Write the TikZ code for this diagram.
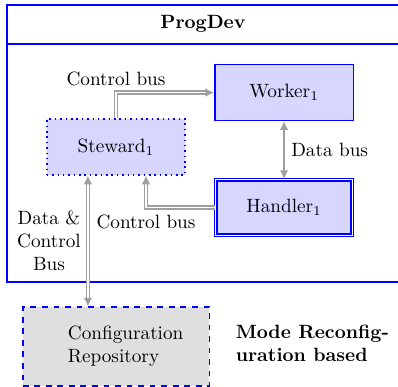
\documentclass[tikz,border=0pt]{standalone}
\usepackage{tikz}
\usetikzlibrary{positioning,arrows.meta}

\begin{document}
\begin{tikzpicture}[x=0.52pt, y=-0.52pt,
			block/.style={rectangle, draw=blue, fill=blue!16, thick, minimum width=72pt, minimum height=29pt},
			handlerbox/.style={block, line width=0.7pt, double=white, double distance=0.6pt, minimum width=71pt},
			repo/.style={rectangle, draw=blue, fill=gray!25, thick, dashed, minimum width=97pt, minimum height=41pt, text width=50pt, align=left},
			bus/.style={draw=gray!75, double=white, double distance=0.9pt, line width=0.75pt},
			tip/.style={Latex[length=4.5pt, width=4.5pt]},
			databus/.style={draw=gray!75, line width=0.8pt, {Latex[length=4.5pt, width=4.5pt]}-{Latex[length=4.5pt, width=4.5pt]}},
			frame/.style={draw=blue, thick}
		]
		\useasboundingbox (0,0) rectangle (398,387);
		\clip (0,0) rectangle (398,387);

		% outer frame with header
		\draw[frame] (404,5) -- (7,5) -- (7,282) -- (404,282);
		\draw[frame] (7,44) -- (404,44);
		\node[font=\bfseries] (title) at (203,24) {ProgDev};

		\node[block, dotted] (steward) at (116,147) {Steward$_1$};
		\node[block] (worker) [above right=-1.5pt and 14.6pt of steward.north east] {Worker$_1$};
		\node[handlerbox] (handler) [below=30pt of worker] {Handler$_1$};
		\node[repo] (config) [below=68pt of steward] {Configuration Repository};
		\node[font=\bfseries, align=left, anchor=west] (mode) at (229,343) {Mode Reconfig-\\uration based};

		\coordinate (sin) at ([xshift=15.6pt]steward.south);
		\coordinate (dcb) at ([xshift=-14.6pt]steward.south);

		\draw[bus, -{Latex[length=4.5pt, width=4.5pt]}] (steward.north) |- node[pos=0.5, above] {Control bus} (worker.west);
		\draw[bus, -{Latex[length=4.5pt, width=4.5pt]}] (handler.west) -| node[pos=0.5, below] {Control bus} (sin);
		\draw[databus] (worker.south) -- node[midway, right] {Data bus} (handler.north);
		\draw[bus, {Latex[length=4.5pt, width=4.5pt]}-{Latex[length=4.5pt, width=4.5pt]}] (dcb) -- node[midway, left, align=center] {Data \&\\Control\\Bus} (dcb |- config.north);
		\end{tikzpicture}
\end{document}
